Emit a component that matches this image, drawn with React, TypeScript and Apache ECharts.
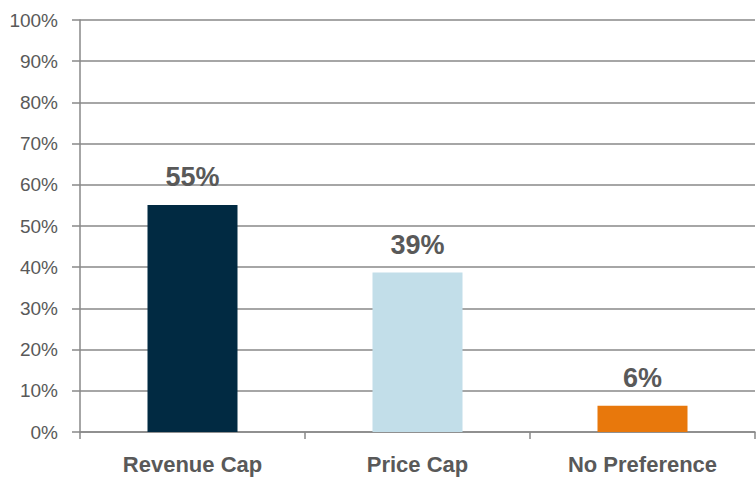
import React, { useEffect, useRef } from "react";
import * as echarts from "echarts";

const categories = ["Revenue Cap", "Price Cap", "No Preference"];
const values = [55.1, 38.7, 6.4];
const labels = ["55%", "39%", "6%"];
const colors = ["#012A42", "#C2DEE9", "#E8780C"];

const FONT = "'Liberation Sans', Arial, sans-serif";

export default function App() {
  const ref = useRef<HTMLDivElement>(null);
  useEffect(() => {
    const chart = echarts.init(ref.current!, null, { renderer: "svg" });
    chart.setOption({
      animation: false,
      grid: { left: 80, right: 1, top: 20, bottom: 49, containLabel: false },
      xAxis: {
        type: "category",
        data: categories,
        axisLine: { show: true, lineStyle: { color: "#898989", width: 1.5 } },
        axisTick: { show: true, length: 7, alignWithLabel: false, lineStyle: { color: "#898989", width: 1.5 } },
        axisLabel: { color: "#595959", fontFamily: FONT, fontWeight: "bold", fontSize: 22, margin: 21 },
      },
      yAxis: {
        type: "value",
        min: 0,
        max: 100,
        interval: 10,
        axisLine: { show: true, lineStyle: { color: "#898989", width: 1.5 } },
        axisTick: { show: true, length: 8, lineStyle: { color: "#898989", width: 1.5 } },
        splitLine: { show: true, lineStyle: { color: "#898989", width: 1.5 } },
        axisLabel: { color: "#595959", fontFamily: FONT, fontSize: 19, margin: 22, formatter: "{value}%" },
      },
      series: [
        {
          type: "bar",
          barWidth: "40%",
          data: values.map((v, i) => ({ value: v, itemStyle: { color: colors[i] } })),
          label: {
            show: true,
            position: "top",
            distance: 14,
            color: "#595959",
            fontFamily: FONT,
            fontWeight: "bold",
            fontSize: 27,
            formatter: (p: any) => labels[p.dataIndex],
          },
        },
      ],
    });
    return () => chart.dispose();
  }, []);
  return <div ref={ref} style={{ width: 756, height: 481, position: "absolute", left: 0, top: 0 }} />;
}
